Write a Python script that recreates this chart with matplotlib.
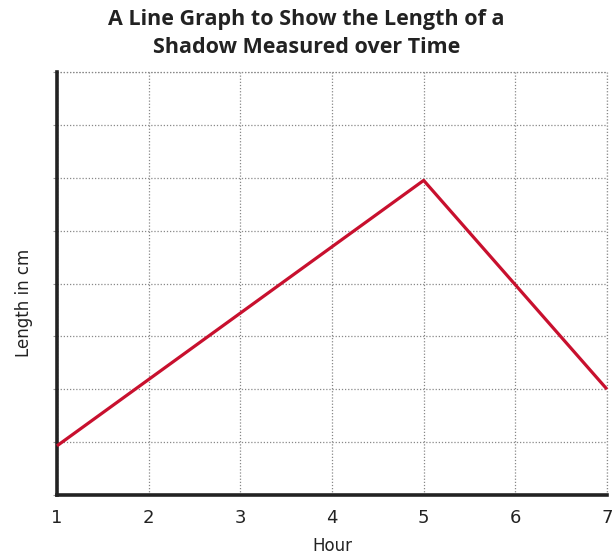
import matplotlib
matplotlib.use("Agg")
import matplotlib.pyplot as plt

hours = [1, 5, 7]
length_cm = [0.93, 5.95, 2.0]
x_ticks = [1, 2, 3, 4, 5, 6, 7]
y_grid = [0, 1, 2, 3, 4, 5, 6, 7, 8]

title = "A Line Graph to Show the Length of a\nShadow Measured over Time"

fig = plt.figure(figsize=(6.13, 5.55), dpi=100)
ax = fig.add_axes([57/613, 60/555, 550/613, 423/555])

ax.plot(hours, length_cm, color="#c8102e", linewidth=2.3, solid_capstyle="butt", zorder=3, clip_on=False)

ax.set_xlim(1, 7)
ax.set_ylim(0, 8)
ax.set_xticks(x_ticks)
ax.set_yticks(y_grid)
ax.set_yticklabels([])
ax.grid(True, color="#888888", linestyle=(0, (1, 1.5)), linewidth=0.9)
ax.tick_params(axis="y", length=3, color="#999999")
ax.tick_params(axis="x", length=0, labelsize=13, labelcolor="#222222", pad=10)

for s in ["top", "right"]:
    ax.spines[s].set_visible(False)
for s in ["left", "bottom"]:
    ax.spines[s].set_color("#222222")
    ax.spines[s].set_linewidth(2.6)

ax.axhline(8, color="#888888", linestyle=(0, (1, 1.5)), linewidth=0.9, clip_on=False)
ax.axvline(7, color="#888888", linestyle=(0, (1, 1.5)), linewidth=0.9, clip_on=False)

ax.set_xlabel("Hour", fontsize=12, color="#222222", labelpad=7)
ax.set_ylabel("Length in cm", fontsize=12, color="#222222")
ax.yaxis.set_label_coords(-0.043, 0.455)

fig.text(0.5, 1 - 9/555, title, ha="center", va="top", fontsize=15.5, fontweight="bold",
         color="#222222", family="Open Sans", linespacing=1.42)

fig.savefig("out.png", dpi=100)
